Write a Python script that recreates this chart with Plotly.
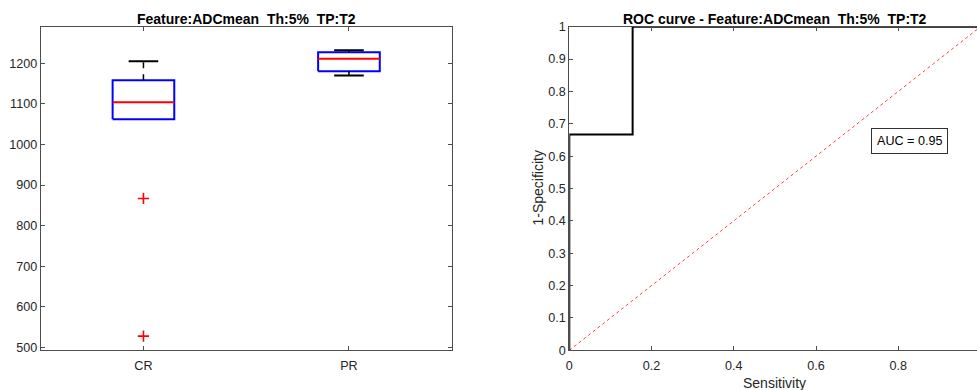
import plotly.graph_objects as go

# ---- data ----
groups = ["CR", "PR"]
q1 = [1062, 1180]
median = [1104, 1211]
q3 = [1158, 1227]
upper_whisker = [1205, 1232]
lower_whisker = [1062, 1170]
outliers_cr = [867, 528]

roc_x = [0, 0, 0.154, 0.154, 1]
roc_y = [0, 0.667, 0.667, 1, 1]
chance_x = [0, 1]
chance_y = [0, 1]
auc_text = "AUC = 0.95"

left_title = "Feature:ADCmean  Th:5%  TP:T2"
right_title = "ROC curve - Feature:ADCmean  Th:5%  TP:T2"

W, H = 977, 390
AX = "#4d4d4d"
TXT = "#262626"
FONT = "Liberation Sans, Arial, sans-serif"

fig = go.Figure()

bw = 0.15   # half box width
cw = 0.072  # half cap width
pos = [1, 2]

for i, p in enumerate(pos):
    fig.add_trace(go.Scatter(
        x=[p - bw, p + bw, p + bw, p - bw, p - bw],
        y=[q1[i], q1[i], q3[i], q3[i], q1[i]],
        mode="lines", line=dict(color="#0000ff", width=2),
        xaxis="x", yaxis="y", showlegend=False, hoverinfo="skip"))
    fig.add_trace(go.Scatter(
        x=[p - bw, p + bw], y=[median[i], median[i]],
        mode="lines", line=dict(color="#ff0000", width=2),
        xaxis="x", yaxis="y", showlegend=False, hoverinfo="skip"))
    fig.add_trace(go.Scatter(
        x=[p, p], y=[q3[i], upper_whisker[i]],
        mode="lines", line=dict(color="black", width=1.5, dash="6px,6px"),
        xaxis="x", yaxis="y", showlegend=False, hoverinfo="skip"))
    fig.add_trace(go.Scatter(
        x=[p - cw, p + cw], y=[upper_whisker[i], upper_whisker[i]],
        mode="lines", line=dict(color="black", width=2),
        xaxis="x", yaxis="y", showlegend=False, hoverinfo="skip"))
    if lower_whisker[i] < q1[i]:
        fig.add_trace(go.Scatter(
            x=[p, p], y=[lower_whisker[i], q1[i]],
            mode="lines", line=dict(color="black", width=1.5, dash="6px,6px"),
            xaxis="x", yaxis="y", showlegend=False, hoverinfo="skip"))
        fig.add_trace(go.Scatter(
            x=[p - cw, p + cw], y=[lower_whisker[i], lower_whisker[i]],
            mode="lines", line=dict(color="black", width=2),
            xaxis="x", yaxis="y", showlegend=False, hoverinfo="skip"))

fig.add_trace(go.Scatter(
    x=[1] * len(outliers_cr), y=outliers_cr, mode="markers",
    marker=dict(symbol="cross-thin", size=8, line=dict(color="#ff0000", width=1.6)),
    xaxis="x", yaxis="y", showlegend=False, hoverinfo="skip"))

# ROC
fig.add_trace(go.Scatter(
    x=chance_x, y=chance_y, mode="lines",
    line=dict(color="#ff4040", width=1, dash="dot"),
    xaxis="x2", yaxis="y2", showlegend=False, hoverinfo="skip"))
fig.add_trace(go.Scatter(
    x=roc_x, y=roc_y, mode="lines",
    line=dict(color="black", width=2),
    xaxis="x2", yaxis="y2", showlegend=False, hoverinfo="skip"))

L0, L1 = 40.7, 451.7
R0 = 569.3
R_unit = 411.25
TOP, BOT = 26.7, 350.3
y_dom = [1 - BOT / H, 1 - TOP / H]
r_max = (W - R0) / R_unit

tickfont = dict(family=FONT, size=12.6, color=TXT)
common = dict(showline=True, linecolor=AX, linewidth=1, ticks="inside",
              tickcolor=AX, ticklen=4, showgrid=False, zeroline=False,
              tickfont=tickfont, automargin=False)

fig.update_layout(
    width=W, height=H, margin=dict(l=0, r=0, t=0, b=0),
    template="none", plot_bgcolor="white", paper_bgcolor="white",
    xaxis=dict(domain=[L0 / W, L1 / W], range=[0.5, 2.5],
               tickvals=pos, ticktext=groups, mirror="ticks", anchor="y",
               ticklabelstandoff=4, **common),
    yaxis=dict(domain=y_dom, range=[493, 1290], tickvals=[500, 600, 700, 800, 900, 1000, 1100, 1200],
               mirror="ticks", anchor="x", **common),
    xaxis2=dict(domain=[R0 / W, 1.0], range=[0, r_max],
                tickvals=[0, 0.2, 0.4, 0.6, 0.8], ticktext=["0", "0.2", "0.4", "0.6", "0.8"],
                mirror="ticks", anchor="y2", ticklabelstandoff=4, **common),
    yaxis2=dict(domain=y_dom, range=[0, 1],
                tickvals=[0, 0.1, 0.2, 0.3, 0.4, 0.5, 0.6, 0.7, 0.8, 0.9, 1],
                ticktext=["0", "0.1", "0.2", "0.3", "0.4", "0.5", "0.6", "0.7", "0.8", "0.9", "1"],
                mirror=False, anchor="x2", **common),
    annotations=[
        dict(text="<b>" + left_title + "</b>", xref="paper", yref="paper",
             x=(L0 + L1) / 2 / W, y=1 - 18.5 / H, yanchor="middle", xanchor="center",
             showarrow=False, font=dict(family=FONT, size=14, color="black")),
        dict(text="<b>" + right_title + "</b>", xref="x2", yref="paper",
             x=0.5, y=1 - 18.5 / H, yanchor="middle", xanchor="center",
             showarrow=False, font=dict(family=FONT, size=14, color="black")),
        dict(text="Sensitivity", xref="x2", yref="paper", x=0.5, y=1 - 382.5 / H,
             xanchor="center", yanchor="middle", showarrow=False,
             font=dict(family=FONT, size=14, color=TXT)),
        dict(text="1-Specificity", xref="paper", yref="y2", x=537 / W, y=0.5,
             xanchor="center", yanchor="middle", textangle=-90, showarrow=False,
             font=dict(family=FONT, size=14, color=TXT)),
        dict(text=auc_text, xref="x2", yref="y2", x=0.828, y=0.647,
             xanchor="center", yanchor="middle", showarrow=False,
             bordercolor="#333", borderwidth=1, borderpad=5, bgcolor="white",
             font=dict(family=FONT, size=12.6, color="black")),
    ],
)

fig.write_html("out.html")
